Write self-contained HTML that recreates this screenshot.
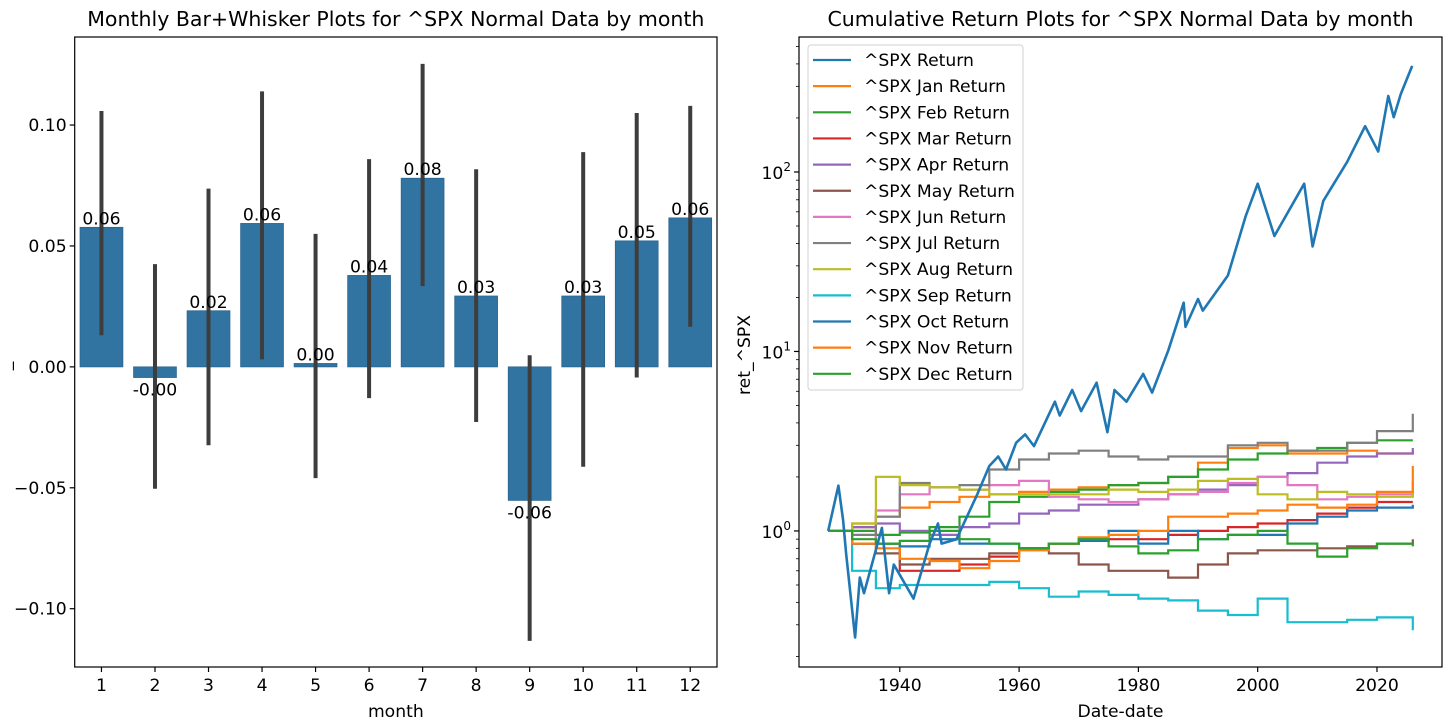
<!DOCTYPE html>
<html><head><meta charset="utf-8"><style>
body{margin:0;background:#fff;}
svg{display:block;font-family:"DejaVu Sans","Liberation Sans",sans-serif;}
</style></head><body>
<svg id="root" width="1456" height="728" viewBox="0 0 1456 728" xmlns="http://www.w3.org/2000/svg">
<rect width="1456" height="728" fill="#fff"/>
<g id="left"></g>
<g id="right"></g>
</svg>
<script>
// ---- left chart data ----
const months = [1,2,3,4,5,6,7,8,9,10,11,12];
const meanReturns = [0.0577,-0.0044,0.0232,0.0593,0.0014,0.0378,0.0780,0.0293,-0.0552,0.0293,0.0521,0.0616];
const ciLow = [0.0131,-0.0504,-0.0324,0.0031,-0.0460,-0.0129,0.0334,-0.0228,-0.1133,-0.0413,-0.0044,0.0166];
const ciHigh = [0.1058,0.0425,0.0737,0.1139,0.0550,0.0859,0.1253,0.0817,0.0048,0.0888,0.1050,0.1079];
const leftTicks = [-0.10,-0.05,0.00,0.05,0.10];
const leftTickLabels = ["\u22120.10","\u22120.05","0.00","0.05","0.10"];

// ---- right chart data ----
const years = [1928,1932,1936,1940,1945,1950,1955,1960,1965,1970,1975,1980,1985,1990,1995,2000,2005,2010,2015,2020,2026];
const janRet = [1.0,1.1,1.2,1.35,1.45,1.55,1.6,1.65,1.7,1.75,1.8,1.85,2.0,2.4,2.9,3.0,2.7,2.7,2.8,2.7,2.8];
const febRet = [1.0,1.0,0.95,0.98,1.05,1.2,1.45,1.55,1.65,1.7,1.8,1.85,2.0,2.2,2.5,2.7,2.8,2.9,3.1,3.2,3.2];
const marRet = [1.0,1.05,0.85,0.6,0.6,0.65,0.72,0.8,0.85,0.88,0.9,0.9,0.95,1.0,1.05,1.1,1.15,1.25,1.35,1.45,1.45];
const aprRet = [1.0,1.05,1.1,1.0,0.95,1.05,1.1,1.25,1.3,1.4,1.4,1.5,1.6,1.7,1.8,2.0,2.1,2.4,2.6,2.7,2.9];
const mayRet = [1.0,0.85,0.75,0.65,0.7,0.7,0.75,0.8,0.75,0.65,0.6,0.6,0.55,0.65,0.75,0.78,0.78,0.8,0.82,0.85,0.9];
const junRet = [1.0,0.85,1.3,1.6,1.75,1.7,1.8,1.9,1.55,1.5,1.45,1.5,1.6,1.65,1.85,2.0,1.8,1.5,1.55,1.6,1.9];
const julRet = [1.0,0.95,1.2,1.85,1.75,1.8,2.2,2.5,2.7,2.8,2.6,2.5,2.6,2.6,3.0,3.1,2.8,2.8,3.1,3.6,4.5];
const augRet = [1.0,1.1,2.0,1.8,1.75,1.7,1.6,1.6,1.6,1.6,1.7,1.65,1.7,1.9,1.95,1.6,1.5,1.65,1.6,1.55,1.65];
const sepRet = [1.0,0.6,0.48,0.5,0.5,0.5,0.52,0.48,0.43,0.46,0.44,0.42,0.41,0.36,0.34,0.42,0.31,0.31,0.32,0.33,0.28];
const octRet = [1.0,0.85,0.85,0.82,0.9,0.85,0.85,0.8,0.85,0.88,1.0,0.85,1.0,0.9,0.95,0.95,1.1,1.2,1.3,1.35,1.4];
const novRet = [1.0,0.85,0.8,0.7,0.68,0.62,0.68,0.78,0.85,0.92,0.95,1.0,1.2,1.2,1.25,1.3,1.4,1.35,1.4,1.65,2.3];
const decRet = [1.0,0.9,0.85,0.88,1.0,0.9,0.85,0.8,0.85,0.9,0.82,0.75,0.78,0.9,0.95,1.0,0.85,0.72,0.8,0.85,0.82];
const totalYears = [1928,1929.7,1930.5,1931,1932.5,1933.3,1934,1937,1938.2,1939,1942.3,1945,1946.4,1947,1949.5,1953,1955,1956.5,1957.8,1959.5,1961,1962.5,1966,1966.8,1968.9,1970.4,1973,1974.8,1976,1978,1980.8,1982.3,1985,1987.6,1987.9,1990,1990.8,1995,1998,2000,2002.8,2007.8,2009.2,2011,2015,2018,2020.2,2021.9,2022.8,2024,2025.9];
const totalRet = [1.0,1.79,1.15,0.75,0.255,0.55,0.45,1.04,0.45,0.65,0.42,0.85,1.1,0.85,0.9,1.6,2.3,2.6,2.2,3.1,3.45,2.97,5.25,4.4,6.1,4.65,6.7,3.55,6.1,5.25,7.5,5.9,10.1,18.7,13.7,19.6,16.9,26.5,57,86,44,86,38.5,69,114,180,130,265,202,272,390];
const xTicks = [1940,1960,1980,2000,2020];

const FS=17.2, TFS=20.5;
const NS="http://www.w3.org/2000/svg";
function mk(tag,attrs,parent,text){const e=document.createElementNS(NS,tag);for(const k in attrs)e.setAttribute(k,attrs[k]);if(text!==undefined)e.textContent=text;parent.appendChild(e);return e;}

// ---- left chart ----
const L=document.getElementById('left');
const lx0=74.7,lx1=717,ly0=37,ly1=667,lymin=-0.1241,lymax=0.1364;
const lx=i=>lx0+(i+0.5)*(lx1-lx0)/12;
const ly=v=>ly1-(v-lymin)/(lymax-lymin)*(ly1-ly0);
const bw=(lx1-lx0)/12*0.8;
months.forEach((m,i)=>{
  const v=meanReturns[i];
  const r=mk('rect',{x:lx(i)-bw/2,y:Math.min(ly(v),ly(0)),width:bw,height:Math.abs(ly(v)-ly(0)),fill:'#3274a1',stroke:'#2a6591','stroke-width':0.8},L);
  
  
});
months.forEach((m,i)=>{
  const w=mk('line',{x1:lx(i),x2:lx(i),y1:ly(ciLow[i]),y2:ly(ciHigh[i]),stroke:'#3d3d3d','stroke-width':4},L);
  
  
});
months.forEach((m,i)=>{
  const v=meanReturns[i];
  const ty=v>=0?ly(v)-3:ly(v)+18;
  const t=mk('text',{x:lx(i),y:ty,'text-anchor':'middle','font-size':FS,fill:'#000'},L,v.toFixed(2));
  
  
});
const lf=mk('rect',{x:lx0,y:ly0,width:lx1-lx0,height:ly1-ly0,fill:'none',stroke:'#000','stroke-width':1.2},L);


leftTicks.forEach((v,i)=>{
  mk('line',{x1:lx0-5,x2:lx0,y1:ly(v),y2:ly(v),stroke:'#000','stroke-width':1.2},L);
  const t=mk('text',{x:lx0-8,y:ly(v)+6,'text-anchor':'end','font-size':FS},L,leftTickLabels[i]);
  
  
});
months.forEach((m,i)=>{
  mk('line',{x1:lx(i),x2:lx(i),y1:ly1,y2:ly1+5,stroke:'#000','stroke-width':1.2},L);
  const t=mk('text',{x:lx(i),y:ly1+24,'text-anchor':'middle','font-size':FS},L,String(m));
  
  
});
let t=mk('text',{x:(lx0+lx1)/2,y:717,'text-anchor':'middle','font-size':FS},L,'month');


t=mk('text',{x:10,y:366,'text-anchor':'middle','font-size':FS,transform:'rotate(-90 10 366)'},L,'_');


t=mk('text',{x:(lx0+lx1)/2,y:26,'text-anchor':'middle','font-size':TFS},L,'Monthly Bar+Whisker Plots for ^SPX Normal Data by month');



// ---- right chart ----
const R=document.getElementById('right');
const rx0=799,rx1=1442,ry0=37,ry1=667,xmin=1923.1,xmax=2030.9,lmin=-0.758,lmax=2.752;
const rx=yv=>rx0+(yv-xmin)/(xmax-xmin)*(rx1-rx0);
const ry=v=>ry1-(Math.log10(v)-lmin)/(lmax-lmin)*(ry1-ry0);
const clip=mk('clipPath',{id:'rc'},R);mk('rect',{x:rx0,y:ry0,width:rx1-rx0,height:ry1-ry0},clip);
const series=[
 ['^SPX Return','#1f77b4',null],
 ['^SPX Jan Return','#ff7f0e',janRet],['^SPX Feb Return','#2ca02c',febRet],['^SPX Mar Return','#d62728',marRet],
 ['^SPX Apr Return','#9467bd',aprRet],['^SPX May Return','#8c564b',mayRet],['^SPX Jun Return','#e377c2',junRet],
 ['^SPX Jul Return','#7f7f7f',julRet],['^SPX Aug Return','#bcbd22',augRet],['^SPX Sep Return','#17becf',sepRet],
 ['^SPX Oct Return','#1f77b4',octRet],['^SPX Nov Return','#ff7f0e',novRet],['^SPX Dec Return','#2ca02c',decRet]];
const lg=mk('g',{'clip-path':'url(#rc)'},R);
const tp=totalYears.map((yv,i)=>rx(yv).toFixed(1)+','+ry(totalRet[i]).toFixed(1)).join(' ');
let pl=mk('polyline',{points:tp,fill:'none',stroke:'#1f77b4','stroke-width':2.6,'stroke-linejoin':'round'},lg);


series.slice(1).forEach(s=>{
  const arr=s[2];let pts=[];
  years.forEach((yv,i)=>{
    if(i>0)pts.push(rx(yv).toFixed(1)+','+ry(arr[i-1]).toFixed(1));
    pts.push(rx(yv).toFixed(1)+','+ry(arr[i]).toFixed(1));
  });
  const p=mk('polyline',{points:pts.join(' '),fill:'none',stroke:s[1],'stroke-width':2.2},lg);
  
  
});
lg.appendChild(pl);
const rf=mk('rect',{x:rx0,y:ry0,width:rx1-rx0,height:ry1-ry0,fill:'none',stroke:'#000','stroke-width':1.2},R);


xTicks.forEach(yv=>{
  mk('line',{x1:rx(yv),x2:rx(yv),y1:ry1,y2:ry1+5,stroke:'#000','stroke-width':1.2},R);
  const tt=mk('text',{x:rx(yv),y:ry1+24,'text-anchor':'middle','font-size':FS},R,String(yv));
  
  
});
for(let d=-1;d<=2;d++){
  for(let m=1;m<10;m++){
    const v=m*Math.pow(10,d);const lv=Math.log10(v);
    if(lv<lmin||lv>lmax)continue;
    mk('line',{x1:rx0-(m===1?5:3),x2:rx0,y1:ry(v),y2:ry(v),stroke:'#000','stroke-width':m===1?1.2:0.8},R);
    if(m===1){
      const tt=mk('text',{x:rx0-8,y:ry(v)+7,'text-anchor':'end','font-size':FS},R);
      
      
      mk('tspan',{},tt,'10');mk('tspan',{dy:-8,'font-size':12},tt,String(d));
    }
  }
}
t=mk('text',{x:(rx0+rx1)/2,y:717,'text-anchor':'middle','font-size':FS},R,'Date-date');


t=mk('text',{x:750,y:355,'text-anchor':'middle','font-size':FS,transform:'rotate(-90 750 355)'},R,'ret_^SPX');


t=mk('text',{x:(rx0+rx1)/2,y:26,'text-anchor':'middle','font-size':TFS},R,'Cumulative Return Plots for ^SPX Normal Data by month');


// legend
const lgd=mk('g',{},R);


mk('rect',{x:808,y:45,width:215,height:345,rx:3,fill:'#fff','fill-opacity':0.8,stroke:'#d0d0d0','stroke-width':1},lgd);
series.forEach((s,i)=>{
  const y=60+i*26.15;
  const e=mk('g',{},lgd);
  
  
  mk('line',{x1:813,x2:851,y1:y,y2:y,stroke:s[1],'stroke-width':2.2},e);
  mk('text',{x:864,y:y+6,'font-size':FS},e,s[0]);
});
</script>
</body></html>
